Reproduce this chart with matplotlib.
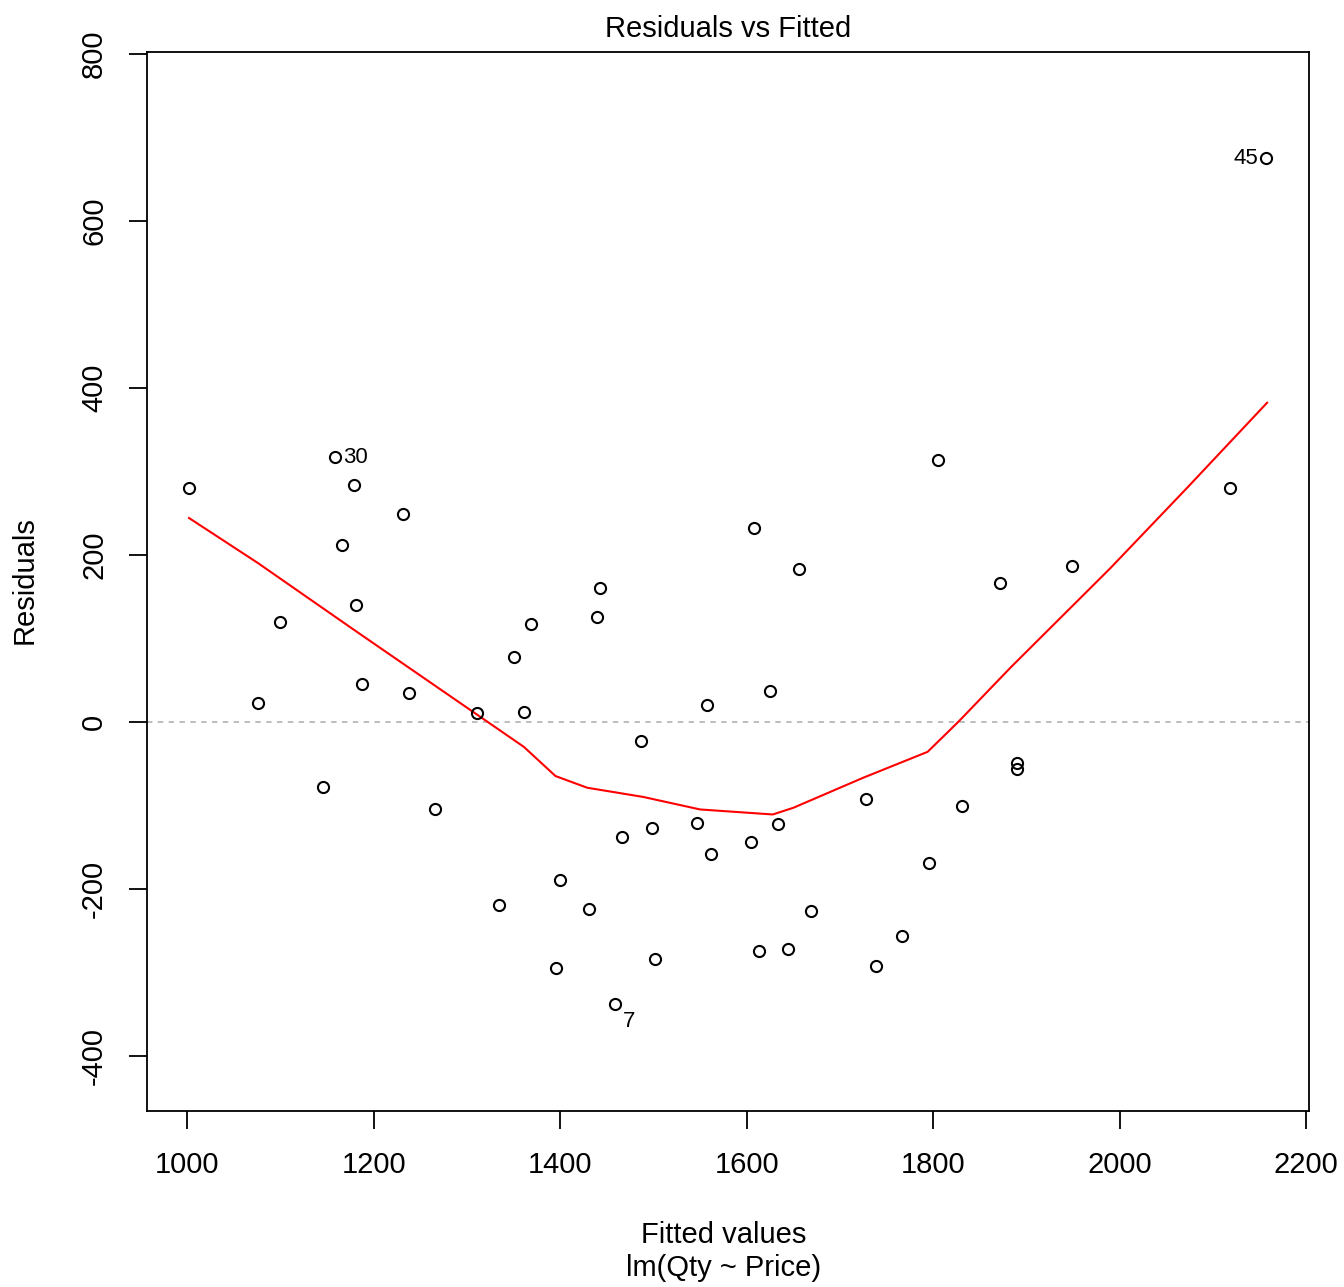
import matplotlib
matplotlib.use("Agg")
import matplotlib.pyplot as plt

plt.rcParams['font.family'] = ['Liberation Sans', 'DejaVu Sans']
plt.rcParams['axes.unicode_minus'] = False

fitted = [1002, 1076, 1100, 1146, 1159, 1166, 1179, 1181, 1187, 1231,
          1238, 1266, 1311, 1334, 1351, 1361, 1369, 1395, 1400, 1431,
          1439, 1443, 1459, 1466, 1487, 1498, 1502, 1547, 1557, 1562,
          1605, 1608, 1613, 1625, 1634, 1644, 1656, 1669, 1728, 1739,
          1767, 1796, 1805, 1831, 1872, 1890, 1890, 1949, 2118, 2157]
resid = [280, 23, 120, -78, 317, 212, 284, 140, 45, 249,
         35, -105, 11, -220, 78, 12, 117, -295, -189, -224,
         126, 160, -338, -138, -23, -127, -284, -121, 20, -158,
         -144, 232, -275, 37, -123, -272, 183, -226, -92, -292,
         -257, -169, 313, -101, 166, -49, -57, 186, 280, 675]

smooth_x = [1002, 1076, 1179, 1322, 1361, 1395, 1429, 1489, 1550, 1628,
            1650, 1725, 1794, 1827, 1883, 1990, 2073, 2158]
smooth_y = [244, 190, 110, 0, -30, -65, -79, -90, -105, -111,
            -103, -67, -36, 0, 65, 184, 281, 382]

label_names = ["30", "7", "45"]
label_x = [1159, 1459, 2157]
label_y = [317, -338, 675]

xticks = [1000, 1200, 1400, 1600, 1800, 2000, 2200]
yticks = [-400, -200, 0, 200, 400, 600, 800]

fig = plt.figure(figsize=(13.44, 12.87), dpi=100)
ax = fig.add_axes([0.1094, 0.1368, 0.8646, 0.8228])

ax.axhline(0, color='#b8b8b8', linestyle=(0, (3, 3)), linewidth=1.3, zorder=1)
ax.plot(fitted, resid, linestyle='none', marker='o', markersize=8,
        markerfacecolor='none', markeredgecolor='black', markeredgewidth=1.5, zorder=3)
ax.plot(smooth_x, smooth_y, color='red', linewidth=1.5, zorder=2)

ax.text(label_x[0] + 8, label_y[0], label_names[0], fontsize=16, ha='left', va='center')
ax.text(label_x[1] + 8, label_y[1] - 8, label_names[1], fontsize=16, ha='left', va='top')
ax.text(label_x[2] - 8, label_y[2], label_names[2], fontsize=16, ha='right', va='center')

ax.set_xlim(957, 2203)
ax.set_ylim(-466, 802)
ax.set_xticks(xticks)
ax.set_yticks(yticks)
ax.tick_params(axis='both', direction='out', length=13, width=1.3, labelsize=21)
ax.tick_params(axis='x', pad=16)
ax.tick_params(axis='y', pad=15)
for lab in ax.get_yticklabels():
    lab.set_rotation(90)
    lab.set_va('center')
for s in ax.spines.values():
    s.set_linewidth(1.3)

ax.set_title("Residuals vs Fitted", fontsize=21, pad=11)
fig.text(25 / 1344, 1 - 580 / 1287, "Residuals", fontsize=21, rotation=90,
         ha='center', va='center')
fig.text(0.5385, 1 - 1235 / 1287, "Fitted values", fontsize=21, ha='center', va='center')
fig.text(0.5385, 1 - 1268 / 1287, "lm(Qty ~ Price)", fontsize=21, ha='center', va='center')

fig.savefig("out.png", dpi=100)
